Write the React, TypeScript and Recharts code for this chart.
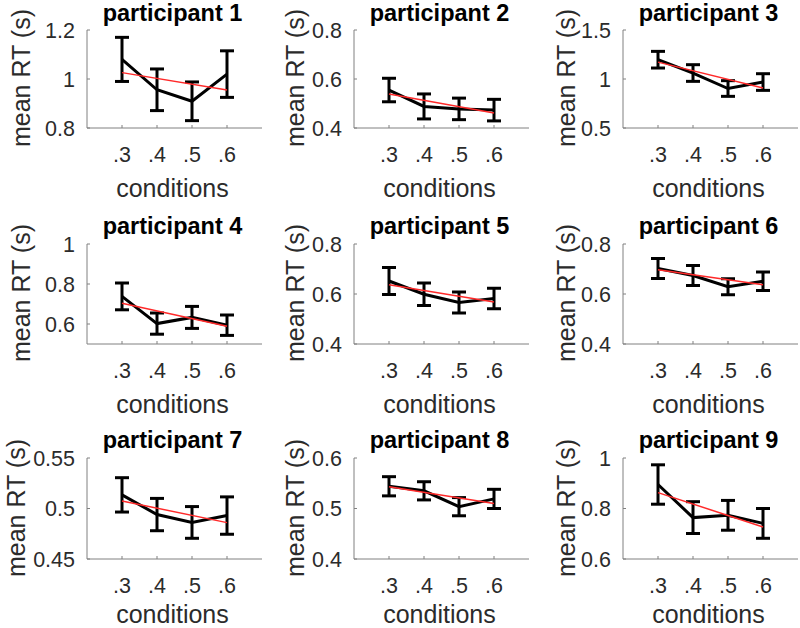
import React from 'react';
import { ComposedChart, Line, XAxis, YAxis, ErrorBar } from 'recharts';

// ---------- data ----------
const conditions = [0.3, 0.4, 0.5, 0.6];
const conditionLabels = ['.3', '.4', '.5', '.6'];
const participantNames = [
  'participant 1', 'participant 2', 'participant 3',
  'participant 4', 'participant 5', 'participant 6',
  'participant 7', 'participant 8', 'participant 9',
];

const meanRT1 = [1.08, 0.956, 0.909, 1.02];
const sem1 = [0.09, 0.085, 0.079, 0.095];
const fit1 = [1.026, 0.955];
const yDomain1 = [0.8, 1.2];
const yTicks1 = [0.8, 1, 1.2];

const meanRT2 = [0.555, 0.488, 0.478, 0.473];
const sem2 = [0.048, 0.051, 0.044, 0.044];
const fit2 = [0.539, 0.461];
const yDomain2 = [0.4, 0.8];
const yTicks2 = [0.4, 0.6, 0.8];

const meanRT3 = [1.197, 1.061, 0.903, 0.969];
const sem3 = [0.085, 0.085, 0.08, 0.085];
const fit3 = [1.172, 0.908];
const yDomain3 = [0.5, 1.5];
const yTicks3 = [0.5, 1, 1.5];

const meanRT4 = [0.738, 0.602, 0.633, 0.594];
const sem4 = [0.067, 0.053, 0.055, 0.051];
const fit4 = [0.704, 0.589];
const yDomain4 = [0.5, 1];
const yTicks4 = [0.6, 0.8, 1];

const meanRT5 = [0.652, 0.599, 0.566, 0.582];
const sem5 = [0.054, 0.045, 0.042, 0.041];
const fit5 = [0.637, 0.568];
const yDomain5 = [0.4, 0.8];
const yTicks5 = [0.4, 0.6, 0.8];

const meanRT6 = [0.702, 0.674, 0.629, 0.651];
const sem6 = [0.04, 0.04, 0.032, 0.037];
const fit6 = [0.697, 0.637];
const yDomain6 = [0.4, 0.8];
const yTicks6 = [0.4, 0.6, 0.8];

const meanRT7 = [0.5135, 0.494, 0.4862, 0.493];
const sem7 = [0.017, 0.016, 0.0157, 0.0185];
const fit7 = [0.5075, 0.486];
const yDomain7 = [0.45, 0.55];
const yTicks7 = [0.45, 0.5, 0.55];

const meanRT8 = [0.544, 0.535, 0.5036, 0.519];
const sem8 = [0.019, 0.018, 0.018, 0.019];
const fit8 = [0.543, 0.51];
const yDomain8 = [0.4, 0.6];
const yTicks8 = [0.4, 0.5, 0.6];

const meanRT9 = [0.895, 0.764, 0.773, 0.741];
const sem9 = [0.078, 0.063, 0.059, 0.059];
const fit9 = [0.863, 0.727];
const yDomain9 = [0.6, 1];
const yTicks9 = [0.6, 0.8, 1];

const panels = [
  { means: meanRT1, errs: sem1, fit: fit1, domain: yDomain1, ticks: yTicks1 },
  { means: meanRT2, errs: sem2, fit: fit2, domain: yDomain2, ticks: yTicks2 },
  { means: meanRT3, errs: sem3, fit: fit3, domain: yDomain3, ticks: yTicks3 },
  { means: meanRT4, errs: sem4, fit: fit4, domain: yDomain4, ticks: yTicks4 },
  { means: meanRT5, errs: sem5, fit: fit5, domain: yDomain5, ticks: yTicks5 },
  { means: meanRT6, errs: sem6, fit: fit6, domain: yDomain6, ticks: yTicks6 },
  { means: meanRT7, errs: sem7, fit: fit7, domain: yDomain7, ticks: yTicks7 },
  { means: meanRT8, errs: sem8, fit: fit8, domain: yDomain8, ticks: yTicks8 },
  { means: meanRT9, errs: sem9, fit: fit9, domain: yDomain9, ticks: yTicks9 },
];

// ---------- layout / style ----------
const FONT = '"Liberation Sans", Arial, Helvetica, sans-serif';
const TEXT = '#2b2b2b';
const AXIS = '#808080';
const RED = '#ff2a2a';
const colX = [87, 354, 623];
const rowTop = [30, 244, 458];
const rowH = [98, 100, 101];
const PLOT_W = 175;
const titleBaseline = [22, 234.5, 448.5];
const labelBaselineGap = [69, 69, 63.5];
const yLabelCx = [20.5, 294.7, 565.5, 20.5, 294.7, 566, 16.3, 294.7, 566];
const TICK_FS = 21.5;
const LABEL_FS = 25;
const TITLE_FS = 23.5;
// with line-height 0.8em, baseline sits 0.7465em below the box top (Liberation Sans metrics)
const BASE_RATIO = 0.7465;

function Panel({ idx }: { idx: number }) {
  const p = panels[idx];
  const col = idx % 3;
  const row = Math.floor(idx / 3);
  const ax = colX[col];
  const top = rowTop[row];
  const h = rowH[row];
  const LEFT = 90;
  const TOP = 30;
  const BOTTOM = 80;
  const RIGHT = 2;
  const data = conditions.map((x, i) => ({
    x,
    m: p.means[i],
    e: p.errs[i],
    fit: i === 0 ? p.fit[0] : i === conditions.length - 1 ? p.fit[1] : null,
  }));
  const cx = ax + PLOT_W / 2 - 2;
  const tickStyle = { fill: TEXT, fontSize: TICK_FS, fontFamily: FONT };
  return (
    <>
      <div style={{ position: 'absolute', left: ax - LEFT, top: top - TOP }}>
        <ComposedChart
          width={LEFT + PLOT_W + RIGHT}
          height={TOP + h + BOTTOM}
          data={data}
          margin={{ top: TOP, right: RIGHT, left: 0, bottom: 0 }}
        >
          <XAxis
            type="number"
            dataKey="x"
            domain={[0.2, 0.7]}
            ticks={conditions}
            interval={0}
            allowDataOverflow
            tickFormatter={(v: number) => conditionLabels[conditions.indexOf(v)]}
            height={BOTTOM}
            tickSize={-3}
            tickMargin={21.4}
            stroke={AXIS}
            tick={tickStyle}
          />
          <YAxis
            type="number"
            domain={p.domain}
            ticks={p.ticks}
            interval={0}
            allowDataOverflow
            tickFormatter={(v: number) => String(v)}
            width={LEFT}
            tickSize={-3}
            tickMargin={15}
            stroke={AXIS}
            tick={tickStyle}
          />
          <Line
            dataKey="m"
            type="linear"
            stroke="#000"
            strokeWidth={3}
            dot={false}
            isAnimationActive={false}
          >
            <ErrorBar
              dataKey="e"
              direction="y"
              width={7}
              strokeWidth={3}
              stroke="#000"
              isAnimationActive={false}
            />
          </Line>
          <Line
            dataKey="fit"
            type="linear"
            stroke={RED}
            strokeWidth={1.5}
            dot={false}
            connectNulls
            isAnimationActive={false}
          />
        </ComposedChart>
      </div>
      <div
        style={{
          position: 'absolute',
          left: cx - 150,
          width: 300,
          top: titleBaseline[row] - TITLE_FS * BASE_RATIO,
          textAlign: 'center',
          fontFamily: FONT,
          fontWeight: 'bold',
          fontSize: TITLE_FS,
          lineHeight: `${TITLE_FS * 0.8}px`,
          color: '#000',
          whiteSpace: 'nowrap',
        }}
      >
        {participantNames[idx]}
      </div>
      <div
        style={{
          position: 'absolute',
          left: cx - 150,
          width: 300,
          top: top + h + labelBaselineGap[row] - LABEL_FS * BASE_RATIO,
          textAlign: 'center',
          fontFamily: FONT,
          fontSize: LABEL_FS,
          lineHeight: `${LABEL_FS * 0.8}px`,
          color: TEXT,
          whiteSpace: 'nowrap',
        }}
      >
        conditions
      </div>
      <div
        style={{
          position: 'absolute',
          left: yLabelCx[idx],
          top: top + h / 2 - 1,
          transform: 'translate(-50%, -50%) rotate(-90deg)',
          fontFamily: FONT,
          fontSize: LABEL_FS,
          lineHeight: `${LABEL_FS}px`,
          color: TEXT,
          whiteSpace: 'nowrap',
        }}
      >
        mean RT (s)
      </div>
    </>
  );
}

export default function App() {
  return (
    <div
      style={{
        position: 'absolute',
        left: 0,
        top: 0,
        width: 800,
        height: 628,
        overflow: 'hidden',
        background: '#fff',
      }}
    >
      {panels.map((_, i) => (
        <Panel key={i} idx={i} />
      ))}
    </div>
  );
}
